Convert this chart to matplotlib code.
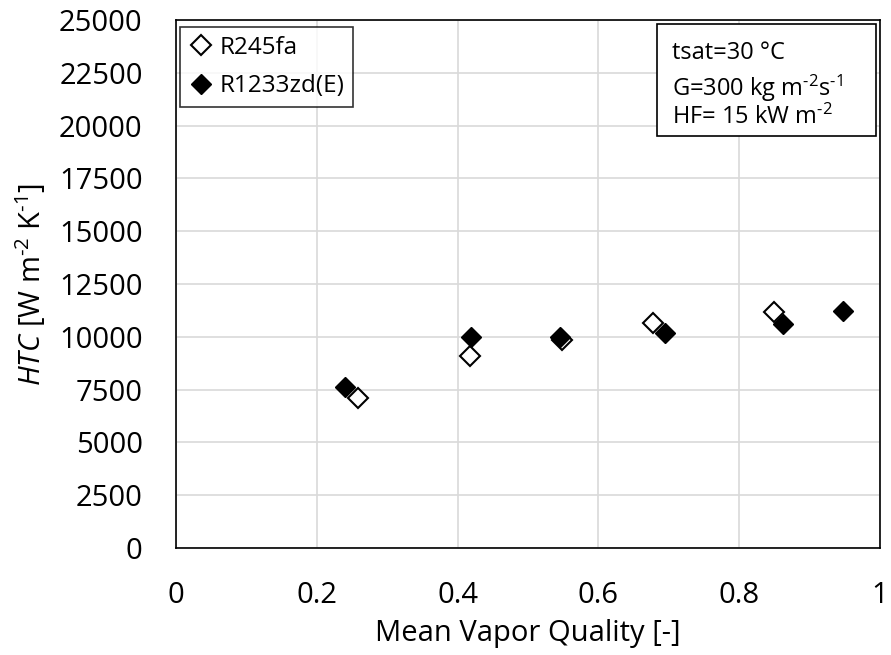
import numpy as np
import matplotlib.pyplot as plt

plt.rcParams['font.family'] = ['Open Sans', 'DejaVu Sans']
plt.rcParams['mathtext.fontset'] = 'custom'
plt.rcParams['mathtext.rm'] = 'Open Sans'
plt.rcParams['mathtext.it'] = 'Open Sans:italic'

# R245fa
x_245 = [0.259, 0.418, 0.548, 0.678, 0.849]
htc_245 = [7100, 9100, 9850, 10650, 11150]

# R1233zd(E)
x_1233 = [0.240, 0.419, 0.546, 0.695, 0.862, 0.947]
htc_1233 = [7600, 10000, 10000, 10170, 10610, 11200]

info = ['tsat=30 °C',
        r'G=300 kg m$^{\text{-}2}$s$^{\text{-}1}$',
        r'HF= 15 kW m$^{\text{-}2}$']

fig = plt.figure(figsize=(8.91, 6.55), dpi=100)
ax = fig.add_axes([0.1975, 0.1634, 0.7902, 0.8061])

ax.plot(x_245, htc_245, 'D', ms=10, mfc='white', mec='black', mew=1.5,
        label='R245fa', zorder=3)
ax.plot(x_1233, htc_1233, 'D', ms=10, mfc='black', mec='black', mew=1.0,
        label='R1233zd(E)', zorder=4)

ax.set_xlim(0, 1)
ax.set_ylim(0, 25000)
ax.set_xticks(np.arange(0, 1.01, 0.2))
ax.set_xticklabels(['0', '0.2', '0.4', '0.6', '0.8', '1'])
ax.set_yticks(np.arange(0, 25001, 2500))
ax.grid(True, color='#d9d9d9', lw=1.2)
ax.set_axisbelow(True)
ax.tick_params(labelsize=21, length=0)
ax.tick_params(axis='x', pad=24)
ax.tick_params(axis='y', pad=24)
for s in ax.spines.values():
    s.set_color('black')
    s.set_linewidth(1.2)

ax.set_xlabel('Mean Vapor Quality [-]', fontsize=21, labelpad=6)
ax.set_ylabel(r'$\it{HTC}$ [W m$^{\text{-}2}$ K$^{\text{-}1}$]', fontsize=21,
              labelpad=8)

leg = ax.legend(loc='upper left', fontsize=17.5, frameon=True, fancybox=False,
                edgecolor='black', handletextpad=0.3, borderpad=0.35,
                handlelength=1.0, labelspacing=0.6, borderaxespad=0,
                bbox_to_anchor=(0.0057, 0.9867))
leg.get_frame().set_linewidth(1.2)

# text box
ax.add_patch(plt.Rectangle((0.6832, 0.7803), 0.3111, 0.2121,
                           transform=ax.transAxes, fc='white', ec='black',
                           lw=1.2, zorder=5))
for txt, yb in zip(info, [0.9261, 0.8561, 0.8030]):
    ax.text(0.7045, yb, txt, transform=ax.transAxes, ha='left',
            va='baseline', fontsize=17, zorder=6)

fig.savefig('out.png', dpi=100)
